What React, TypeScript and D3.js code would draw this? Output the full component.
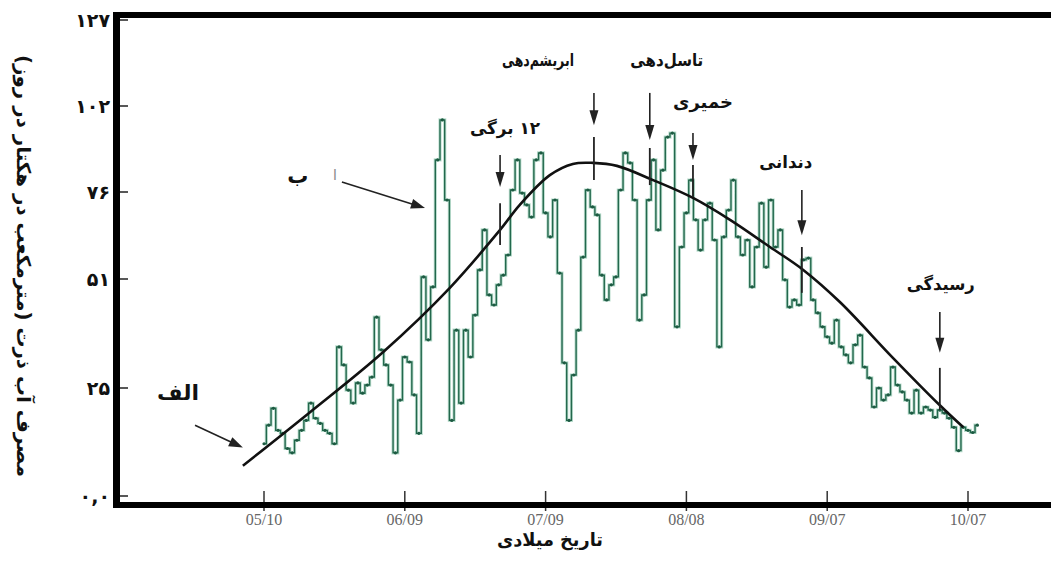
import React from 'react';
import * as d3 from 'd3';

// day 0 of the daily record
const startDate = new Date(2001, 4, 10);
const tickDates = [
  new Date(2001, 4, 10), new Date(2001, 5, 9), new Date(2001, 6, 9),
  new Date(2001, 7, 8), new Date(2001, 8, 7), new Date(2001, 9, 7),
];
const yTicks = [0, 25, 51, 76, 102, 127];

// daily corn water use, one value per day from 05/10
const dailyUse = [
  12.1, 16.4, 20.3, 15.2, 14.5, 11.0, 10.0, 12.9, 15.2, 17.5,
  21.5, 18.0, 16.8, 15.2, 14.5, 12.1, 34.8, 30.5, 24.5, 21.5,
  26.2, 23.8, 25.7, 27.6, 41.9, 34.1, 30.5, 25.7, 10.0, 22.2,
  32.4, 31.2, 23.4, 14.5, 51.6, 36.5, 49.1, 85.7, 97.8, 73.7,
  17.5, 38.8, 21.5, 38.8, 32.4, 42.4, 53.6, 65.1, 47.2, 44.8,
  49.6, 52.1, 57.9, 76.6, 85.7, 75.7, 72.3, 68.8, 85.7, 87.8,
  70.0, 63.1, 73.7, 52.7, 31.0, 17.5, 28.1, 38.8, 57.3, 76.6,
  71.7, 69.4, 52.1, 46.0, 49.6, 51.6, 76.6, 87.8, 84.8, 73.7,
  41.2, 47.2, 73.7, 85.7, 65.1, 82.6, 92.6, 93.8, 39.6, 60.2,
  70.0, 79.6, 68.0, 59.3, 68.0, 72.8, 62.2, 34.8, 63.1, 70.8,
  79.6, 63.1, 57.9, 62.2, 49.1, 60.2, 72.8, 54.4, 73.7, 60.2,
  65.1, 50.8, 44.3, 46.0, 44.8, 56.5, 57.0, 46.0, 42.9, 39.6,
  37.2, 35.7, 41.2, 34.8, 32.9, 31.0, 35.3, 37.6, 30.0, 27.4,
  20.6, 25.0, 22.2, 23.4, 30.0, 25.7, 24.1, 22.2, 19.2, 24.5,
  19.2, 20.6, 19.9, 18.2, 19.9, 19.2, 18.0, 15.9, 10.5, 15.9,
  15.2, 14.7, 16.4,
];

// smooth seasonal curve (days from 05/10, value)
const trendDays = [-4.5, 9.8, 25.4, 39.6, 50.3, 54.5, 60.9, 65.8, 70.1, 75.2, 82.9, 91.4, 99.3, 107.8, 114.9, 122.7, 134, 144, 149];
const trendValues = [7.0, 19.4, 33.6, 48.9, 65.1, 72.3, 81.1, 84.5, 84.8, 83.9, 79.6, 74.3, 68.0, 60.2, 53.6, 45.5, 32.2, 21.0, 15.9];

// growth stages
const stageNames = ['۱۲ برگی', 'ابریشم‌دهی', 'تاسل‌دهی', 'خمیری', 'دندانی', 'رسیدگی'];
const stageDays = [50.3, 70.3, 82.2, 91.4, 114.6, 144];

const yTitle = 'مصرف آب ذرت (مترمکعب در هکتار در روز)';
const xTitle = 'تاریخ میلادی';

const faDigits = (s: string) => s.replace(/\d/g, (d) => '۰۱۲۳۴۵۶۷۸۹'[+d]);

const W = 1051;
const H = 561;

export default function App() {
  const x = d3.scaleTime().domain([tickDates[0], tickDates[5]]).range([264, 968]);
  const y = d3.scaleLinear().domain(yTicks).range([496, 388, 279, 192, 106, 20]);
  const xDay = (d: number) => x(new Date(+startDate + d * 864e5));

  const stepLine = d3.line<number>()
    .x((_, i) => xDay(i))
    .y((v) => y(v))
    .curve(d3.curveStep);

  const trendLine = d3.line<number>()
    .x((_, i) => xDay(trendDays[i]))
    .y((v) => y(v))
    .curve(d3.curveCatmullRom.alpha(0.5));

  // annotation layout (data units for y, px for label offset/width)
  const stageLayout = [
    { shaftTop: 87.2, tip: 77.5, lineTop: 72.8, lineBottom: 60.8, labelY: 93.5, dx: 5, w: 70 },
    { shaftTop: 105.8, tip: 96.2, lineTop: 92.6, lineBottom: 79.6, labelY: 113.6, dx: -56, w: 72 },
    { shaftTop: 105.8, tip: 91.7, lineTop: 89.3, lineBottom: 78.1, labelY: 113.6, dx: 17, w: 73 },
    { shaftTop: 93.8, tip: 85.7, lineTop: 84.2, lineBottom: 74.6, labelY: 101.4, dx: 10, w: 60 },
    { shaftTop: 76.6, tip: 63.6, lineTop: 60.2, lineBottom: 47.7, labelY: 83.3, dx: -16, w: 53 },
    { shaftTop: 43.1, tip: 33.4, lineTop: 29.8, lineBottom: 19.9, labelY: 48.4, dx: 1, w: 68 },
  ];

  const arrow = (x1: number, y1: number, x2: number, y2: number, key: string, head = 14, half = 5) => {
    const a = Math.atan2(y2 - y1, x2 - x1);
    const bx = x2 - head * Math.cos(a);
    const by = y2 - head * Math.sin(a);
    const px = -Math.sin(a) * half;
    const py = Math.cos(a) * half;
    return (
      <g key={key}>
        <line x1={x1} y1={y1} x2={bx + 2 * Math.cos(a)} y2={by + 2 * Math.sin(a)} stroke="#222" strokeWidth={1.6} />
        <polygon points={`${x2},${y2} ${bx + px},${by + py} ${bx - px},${by - py}`} fill="#222" />
      </g>
    );
  };

  const persian = { fontFamily: 'DejaVu Sans', fontWeight: 700 as const };

  return (
    <svg width={W} height={H} style={{ position: 'absolute', left: 0, top: 0, background: '#fff' }}>
      <rect width={W} height={H} fill="#fff" />

      {/* daily water use */}
      <path d={stepLine(dailyUse) || ''} fill="none" stroke="#9fd0bb" strokeWidth={3.2} opacity={0.7} />
      <path d={stepLine(dailyUse) || ''} fill="none" stroke="#23684d" strokeWidth={1.4} />
      <g fill="#1d5a42">
        {dailyUse.map((v, i) => (
          <circle key={i} cx={xDay(i)} cy={y(v)} r={1.6} />
        ))}
      </g>

      {/* seasonal curve */}
      <path d={trendLine(trendValues) || ''} fill="none" stroke="#111" strokeWidth={2.6} />

      {/* stage arrows */}
      {stageNames.map((name, i) => {
        const L = stageLayout[i];
        const sx = xDay(stageDays[i]);
        return (
          <g key={name}>
            {arrow(sx, y(L.shaftTop), sx, y(L.tip), 'a' + i, 15, 4.5)}
            <line x1={sx} x2={sx} y1={y(L.lineTop)} y2={y(L.lineBottom)} stroke="#222" strokeWidth={1.8} />
            <text x={sx + L.dx} y={y(L.labelY)} textAnchor="middle" direction="rtl" fontSize={17}
              textLength={L.w} lengthAdjust="spacingAndGlyphs" fill="#111" {...persian}>
              {name}
            </text>
          </g>
        );
      })}

      {/* الف and ب pointers */}
      {arrow(xDay(-14.7), y(16.4), xDay(-4.5), y(11.2), 'alef')}
      <text x={xDay(-18.3)} y={y(22.2)} textAnchor="middle" direction="rtl" fontSize={21}
        textLength={42} lengthAdjust="spacingAndGlyphs" fill="#111" {...persian}>الف</text>
      {arrow(xDay(16.6), y(79.0), xDay(34.3), y(71.4), 'be')}
      <text x={xDay(7.2)} y={y(78.7)} textAnchor="middle" direction="rtl" fontSize={21} fill="#111" {...persian}>ب</text>
      <text x={xDay(15.1)} y={y(79.6)} textAnchor="middle" direction="rtl" fontSize={14} fill="#888" fontFamily="DejaVu Sans">ا</text>

      {/* x ticks */}
      {tickDates.map((d, i) => (
        <g key={i}>
          <line x1={x(d)} x2={x(d)} y1={491} y2={511} stroke="#333" strokeWidth={1.5} />
          <text x={x(d)} y={525} textAnchor="middle" fontFamily="Liberation Serif" fontSize={16} fill="#666">
            {d3.timeFormat('%m/%d')(d)}
          </text>
        </g>
      ))}

      {/* y ticks */}
      {yTicks.map((t) => (
        <g key={t}>
          <line x1={118} x2={128} y1={y(t)} y2={y(t)} stroke="#111" strokeWidth={1.4} />
          <text x={110} y={y(t)} dy="0.35em" textAnchor="end" fontSize={19} fill="#111" {...persian}>
            {t === 0 ? '۰,۰' : faDigits(String(t))}
          </text>
        </g>
      ))}

      {/* frame */}
      <rect x={113} y={12} width={W - 113} height={6} fill="#000" />
      <rect x={113} y={502} width={W - 113} height={6} fill="#000" />
      <rect x={113} y={12} width={7} height={496} fill="#000" />

      {/* titles */}
      <text x={550} y={546} textAnchor="middle" direction="rtl" fontSize={18}
        textLength={106} lengthAdjust="spacingAndGlyphs" fill="#111" {...persian}>{xTitle}</text>
      <text transform="translate(24,266) rotate(90)" textAnchor="middle" direction="rtl" dy="0.35em" fontSize={19}
        textLength={422} lengthAdjust="spacingAndGlyphs" fill="#111" {...persian}>
        {yTitle}
      </text>
    </svg>
  );
}
